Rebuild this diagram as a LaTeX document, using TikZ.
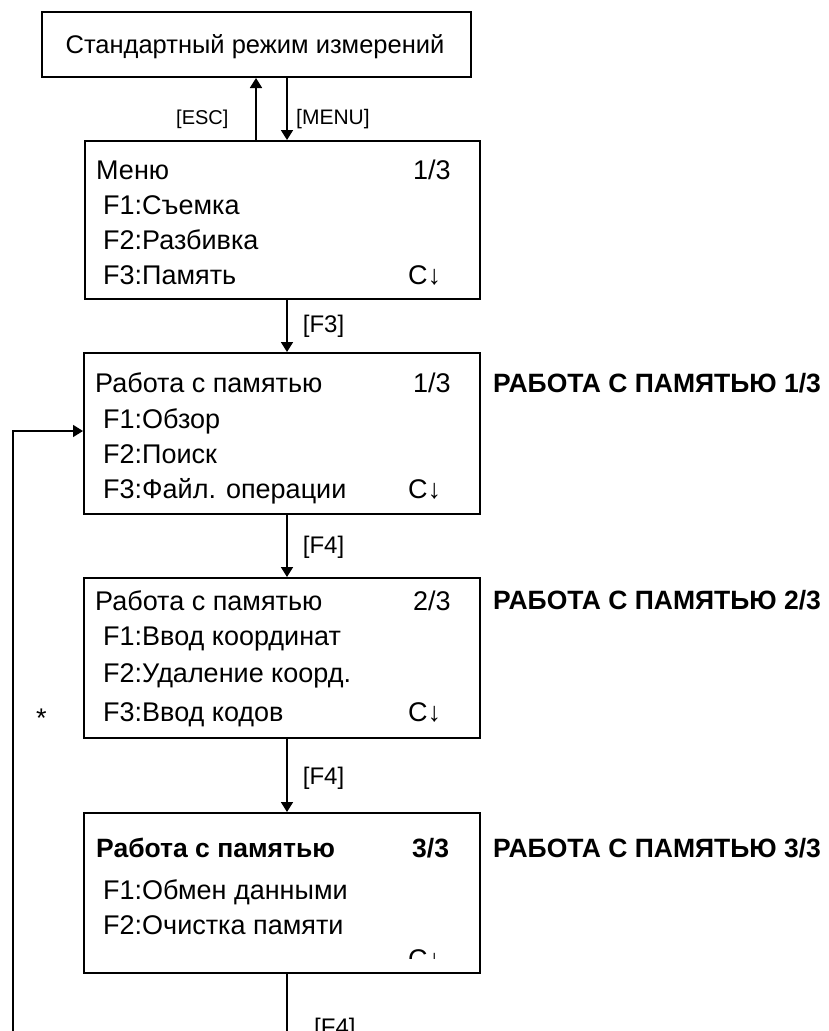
\documentclass[tikz,border=0pt]{standalone}
\usepackage{fontspec}
\setmainfont{Liberation Sans}
\usetikzlibrary{arrows.meta}

\begin{document}
\begin{tikzpicture}[x=1pt, y=-1pt,
    screen/.style={draw, line width=2pt, anchor=north west, inner sep=0pt,
                   minimum width=396pt, minimum height=160pt},
    txt/.style={anchor=base west, inner sep=0pt, font=\fontsize{27}{31}\selectfont},
    key/.style={anchor=base west, inner sep=0pt, font=\fontsize{24}{28}\selectfont},
    tag/.style={anchor=base west, inner sep=0pt, font=\fontsize{26.5}{30}\selectfont\bfseries},
    arr/.style={-{Triangle[length=10pt, width=12pt]}, line width=1.8pt}
  ]
    \useasboundingbox (0,0) rectangle (828,1031);
    \clip (0,0) rectangle (828,1031);
    % key column and loop
    \coordinate (kx) at (287,0);
    \coordinate (ex) at (256,0);
    \coordinate (loopy) at (0,431);
    \coordinate (loopbot) at (13,1045);
    \coordinate (botend) at (287,1045);
    % Standard mode
    \node[screen, minimum width=429pt, minimum height=65pt] (std) at (41,11) {};
    \node[txt, anchor=base, font=\fontsize{25.5}{30}\selectfont] (stdt) at (255,53) {Стандартный режим измерений};
    % Menu 1/3
    \node[screen, minimum width=395pt, minimum height=158pt] (menu) at (84,140) {};
    \node[txt] (menut) at (96,179) {Меню};
    \node[txt] (menup) at (413,179) {1/3};
    \node[txt] (menua) at (103,214) {F1:Съемка};
    \node[txt] (menub) at (103,249) {F2:Разбивка};
    \node[txt] (menuc) at (103,284) {F3:Память};
    \node[txt] (menud) at (408,284) {C↓};
    % Memory 1/3
    \node[screen, minimum height=161pt] (mem1) at (83,352) {};
    \node[txt] (mem1t) at (95,392) {Работа с памятью};
    \node[txt] (mem1p) at (413,392) {1/3};
    \node[txt] (mem1a) at (103,428) {F1:Обзор};
    \node[txt] (mem1b) at (103,463) {F2:Поиск};
    \node[txt] (mem1c) at (103,498) {F3:Файл. операции};
    \node[txt] (mem1d) at (408,498) {C↓};
    \node[tag] (tag1) at (493,392) {РАБОТА С ПАМЯТЬЮ 1/3};
    % Memory 2/3
    \node[screen] (mem2) at (83,577) {};
    \node[txt] (mem2t) at (95,610) {Работа с памятью};
    \node[txt] (mem2p) at (413,610) {2/3};
    \node[txt] (mem2a) at (103,645) {F1:Ввод координат};
    \node[txt] (mem2b) at (103,682) {F2:Удаление коорд.};
    \node[txt] (mem2c) at (103,721) {F3:Ввод кодов};
    \node[txt] (mem2d) at (408,721) {C↓};
    \node[tag] (tag2) at (493,609) {РАБОТА С ПАМЯТЬЮ 2/3};
    \node[txt] (star) at (36,727) {*};
    % Memory 3/3
    \node[screen] (mem3) at (83,812) {};
    \node[txt, font=\fontsize{26.5}{30}\selectfont\bfseries] (mem3t) at (96,857) {Работа с памятью};
    \node[txt, font=\fontsize{26.5}{30}\selectfont\bfseries] (mem3p) at (412,857) {3/3};
    \node[txt] (mem3a) at (103,899) {F1:Обмен данными};
    \node[txt] (mem3b) at (103,934) {F2:Очистка памяти};
    \begin{scope}
      \clip (400,940) rectangle (460,958);
      \node[txt] (mem3d) at (408,968) {C↓};
    \end{scope}
    \node[tag] (tag3) at (493,857) {РАБОТА С ПАМЯТЬЮ 3/3};
    % Arrows
    \draw[arr] (menu.north -| ex) -- (std.south -| ex);
    \draw[arr] (std.south -| kx) -- (menu.north -| kx);
    \node[key, font=\fontsize{20}{24}\selectfont] (esc) at (176,124) {[ESC]};
    \node[key, font=\fontsize{21}{25}\selectfont] (mnu) at (296,124) {[MENU]};
    \draw[arr] (menu.south -| kx) -- node[key, pos=0.62, anchor=base west, xshift=15pt] (kf3) {[F3]} (mem1.north -| kx);
    \draw[arr] (mem1.south -| kx) -- node[key, pos=0.62, anchor=base west, xshift=15pt] (kf4a) {[F4]} (mem2.north -| kx);
    \draw[arr] (mem2.south -| kx) -- node[key, pos=0.62, anchor=base west, xshift=15pt] (kf4b) {[F4]} (mem3.north -| kx);
    \draw[line width=1.8pt] (mem3.south -| kx) -- (botend);
    \node[key] (kf4c) at (314,1035) {[F4]};
    \draw[arr, line width=1.5pt] (loopbot) |- (mem1.west |- loopy);
\end{tikzpicture}
\end{document}
